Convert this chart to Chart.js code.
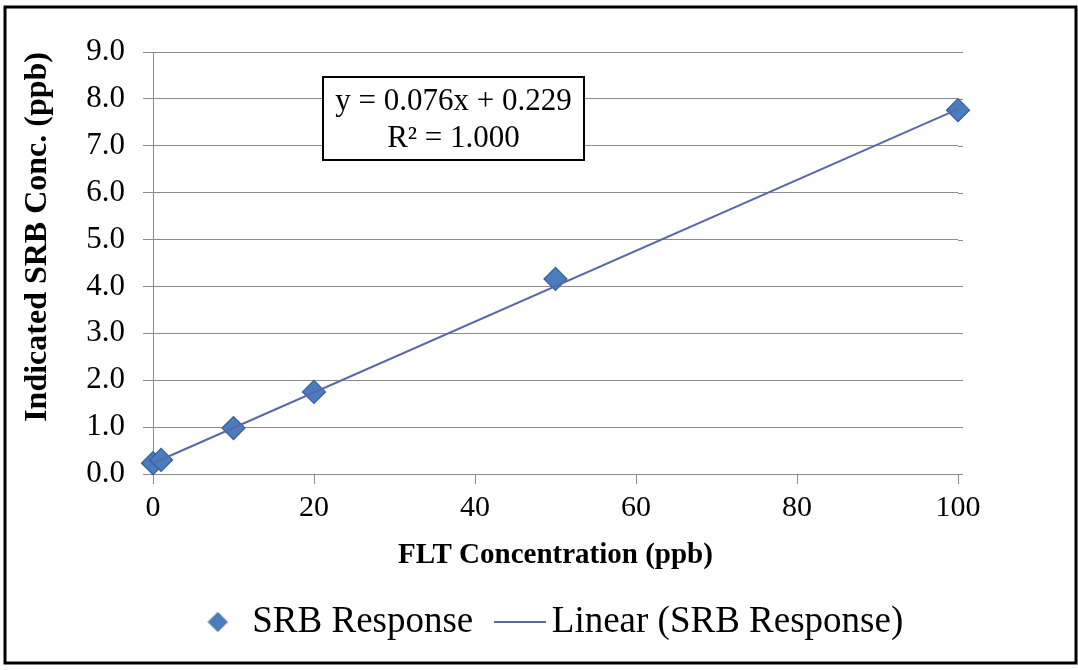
<!DOCTYPE html>
<html>
<head>
<meta charset="utf-8">
<script src="https://cdn.jsdelivr.net/npm/chart.js@4/dist/chart.umd.min.js"></script>
<style>
html,body{margin:0;padding:0;background:#fff;}
#wrap{width:1078px;height:670px;position:relative;}
</style>
</head>
<body>
<div id="wrap"><canvas id="c" width="1078" height="670"></canvas></div>
<script>
// ---- data ----
const fltConc = [0, 1, 10, 20, 50, 100];
const srbResponse = [0.23, 0.30, 0.98, 1.75, 4.16, 7.76];
const trendX = [0, 100];
const trendY = [0.229, 7.78];
const yTicks = [0, 1, 2, 3, 4, 5, 6, 7, 8, 9];
const xTicks = [0, 20, 40, 60, 80, 100];
const equationLines = ['y = 0.076x + 0.229', 'R\u00B2 = 1.000'];
const seriesNames = ['SRB Response', 'Linear (SRB Response)'];
const axisTitles = { x: 'FLT Concentration (ppb)', y: 'Indicated SRB Conc. (ppb)' };

const SERIF = '"Liberation Serif", "Times New Roman", serif';
const markerFill = '#4A7CC0';
const markerBorder = '#3A5F96';
const trendColor = '#5A68A8';
const gridColor = '#8C8C8C';

// legend symbol images
function makeDiamond(r, shift) {
  const c = document.createElement('canvas');
  const s = Math.ceil(r * 2 + 2);
  c.width = s + 2 * shift; c.height = s;
  const g = c.getContext('2d');
  const m = s / 2;
  g.beginPath();
  g.moveTo(m - r, m); g.lineTo(m, m - r); g.lineTo(m + r, m); g.lineTo(m, m + r); g.closePath();
  g.fillStyle = markerFill; g.fill();
  g.lineWidth = 1; g.strokeStyle = markerBorder; g.stroke();
  return c;
}
function makeLine(w) {
  const c = document.createElement('canvas');
  c.width = w; c.height = 4;
  const g = c.getContext('2d');
  g.beginPath(); g.moveTo(0, 2); g.lineTo(w, 2);
  g.lineWidth = 2; g.strokeStyle = trendColor; g.stroke();
  return c;
}
const legendDiamond = makeDiamond(9.5, 3);
const legendLine = makeLine(52);

const scatterData = fltConc.map((x, i) => ({ x: x, y: srbResponse[i] }));
const trendData = trendX.map((x, i) => ({ x: x, y: trendY[i] }));

const framePlugin = {
  id: 'frame',
  beforeDatasetsDraw(chart) {
    // small extension of horizontal gridlines past the right edge, as in the original
    const ctx = chart.ctx;
    const area = chart.chartArea;
    const ys = chart.scales.y;
    ctx.save();
    ctx.strokeStyle = gridColor;
    ctx.lineWidth = 1;
    yTicks.forEach(v => {
      const py = Math.round(ys.getPixelForValue(v)) + 0.5;
      ctx.beginPath(); ctx.moveTo(area.right, py); ctx.lineTo(area.right + 5, py); ctx.stroke();
    });
    ctx.restore();
  },
  afterDatasetsDraw(chart) {
    const ctx = chart.ctx;
    const area = chart.chartArea;
    // equation box (positioned relative to plot area)
    const bx = area.left + 170, by = area.top + 25, bw = 261, bh = 83;
    ctx.save();
    ctx.fillStyle = '#fff';
    ctx.fillRect(bx, by, bw, bh);
    ctx.lineWidth = 2;
    ctx.strokeStyle = '#000';
    ctx.strokeRect(bx, by, bw, bh);
    ctx.fillStyle = '#000';
    ctx.font = '31px ' + SERIF;
    ctx.textAlign = 'center';
    ctx.textBaseline = 'middle';
    ctx.fillText(equationLines[0], bx + bw / 2, by + 25);
    ctx.fillText(equationLines[1], bx + bw / 2, by + 62);
    ctx.restore();
  },
  afterDraw(chart) {
    const ctx = chart.ctx;
    ctx.save();
    ctx.lineWidth = 3;
    ctx.strokeStyle = '#000';
    ctx.strokeRect(5, 7, 1071, 656);
    ctx.restore();
  }
};

new Chart(document.getElementById('c'), {
  data: {
    datasets: [
      {
        type: 'line',
        label: seriesNames[1],
        data: trendData,
        borderColor: trendColor,
        borderWidth: 2,
        pointRadius: 0,
        fill: false,
        clip: false,
        order: 0
      },
      {
        type: 'scatter',
        label: seriesNames[0],
        data: scatterData,
        pointStyle: 'rectRot',
        pointRadius: 11.5,
        backgroundColor: markerFill,
        borderColor: markerBorder,
        borderWidth: 1.2,
        clip: false,
        order: 1
      }
    ]
  },
  options: {
    responsive: false,
    animation: false,
    devicePixelRatio: 1,
    layout: { padding: { top: 52, left: 0, right: 0, bottom: 19.5 } },
    plugins: {
      tooltip: { enabled: false },
      title: { display: false },
      legend: {
        display: true,
        position: 'bottom',
        fullSize: false,
        labels: {
          usePointStyle: true,
          pointStyleWidth: 26,
          boxHeight: 28,
          padding: 34,
          color: '#000',
          font: { family: SERIF, size: 37 },
          generateLabels: () => [
            { text: seriesNames[0], pointStyle: legendDiamond, fillStyle: markerFill, strokeStyle: markerBorder, lineWidth: 0, hidden: false, datasetIndex: 1, fontColor: '#000' },
            { text: seriesNames[1], pointStyle: legendLine, fillStyle: trendColor, strokeStyle: trendColor, lineWidth: 0, hidden: false, datasetIndex: 0, fontColor: '#000' }
          ]
        }
      }
    },
    scales: {
      x: {
        type: 'linear',
        position: 'bottom',
        min: 0,
        max: 100,
        afterBuildTicks: (s) => { s.ticks = xTicks.map(v => ({ value: v })); },
        afterFit: (s) => { s.height = 95.5; },
        grid: { drawOnChartArea: false, drawTicks: true, tickLength: 10, color: gridColor, lineWidth: 1 },
        border: { display: true, color: gridColor, width: 1 },
        ticks: { color: '#000', font: { family: SERIF, size: 30 }, padding: 6, maxRotation: 0 },
        title: { display: true, text: axisTitles.x, color: '#000', font: { family: SERIF, size: 29, weight: 'bold' }, padding: { top: 0, bottom: -3 } }
      },
      y: {
        type: 'linear',
        position: 'left',
        min: 0,
        max: 9,
        afterBuildTicks: (s) => { s.ticks = yTicks.map(v => ({ value: v })); },
        afterFit: (s) => { s.width = 153; },
        grid: { drawOnChartArea: true, drawTicks: true, tickLength: 10, color: gridColor, lineWidth: 1 },
        border: { display: true, color: gridColor, width: 1 },
        ticks: { color: '#000', font: { family: SERIF, size: 31 }, padding: 18, callback: (v) => Number(v).toFixed(1) },
        title: { display: true, text: axisTitles.y, align: 'end', color: '#000', font: { family: SERIF, size: 32, weight: 'bold' }, padding: { top: 19, bottom: 0 } }
      },
      yRight: {
        type: 'linear',
        position: 'right',
        display: true,
        min: 0,
        max: 9,
        afterFit: (s) => { s.width = 120; },
        grid: { display: false },
        border: { display: false },
        ticks: { display: false }
      }
    }
  },
  plugins: [framePlugin]
});
</script>
</body>
</html>
